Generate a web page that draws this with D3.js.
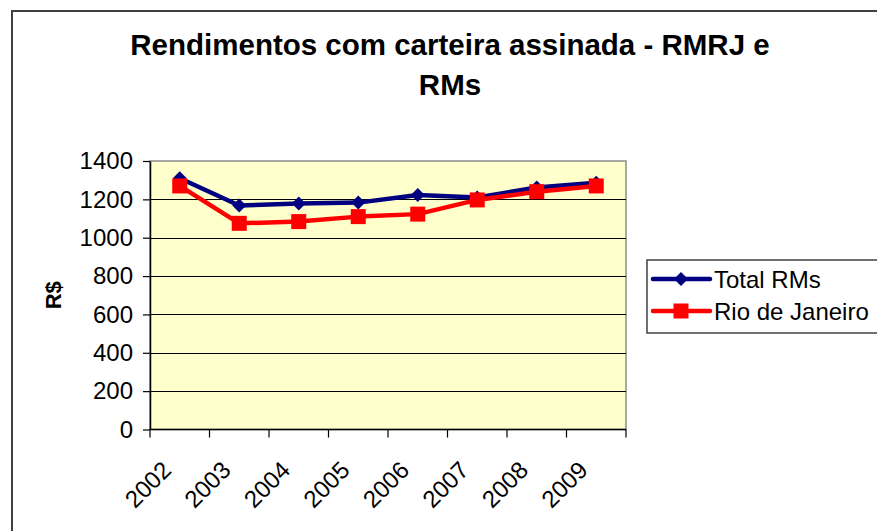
<!DOCTYPE html>
<html>
<head>
<meta charset="utf-8">
<script src="https://cdn.jsdelivr.net/npm/d3@7"></script>
<style>
  html, body { margin: 0; padding: 0; background: #ffffff; }
  svg { display: block; }
  text { font-family: "Liberation Sans", Arial, sans-serif; fill: #000; }
</style>
</head>
<body>
<svg id="chart" width="877" height="531"></svg>
<script>
// ---- data ----
const years = ["2002", "2003", "2004", "2005", "2006", "2007", "2008", "2009"];
const totalRMs = [1310, 1168, 1179, 1183, 1223, 1210, 1262, 1287];
const rioDeJaneiro = [1270, 1075, 1084, 1110, 1123, 1197, 1240, 1270];
const yTicks = [0, 200, 400, 600, 800, 1000, 1200, 1400];
const seriesNames = ["Total RMs", "Rio de Janeiro"];
const titleLines = ["Rendimentos com carteira assinada - RMRJ e", "RMs"];
const yLabel = "R$";

// ---- layout ----
const plot = { left: 150, right: 626, top: 161, bottom: 429.5 };
const svg = d3.select("#chart");

// outer frame
svg.append("rect")
  .attr("x", 12).attr("y", 11).attr("width", 920).attr("height", 560)
  .attr("fill", "#fff").attr("stroke", "#404040").attr("stroke-width", 2);

// title
svg.selectAll(".title").data(titleLines).enter().append("text")
  .attr("x", 450).attr("y", (d, i) => 55 + i * 40)
  .attr("text-anchor", "middle")
  .style("font-size", "29.5px").style("font-weight", "bold")
  .text(d => d);

// scales
const x = d3.scaleBand().domain(years).range([plot.left, plot.right]).padding(0);
const cx = d => x(d) + x.bandwidth() / 2;
const y = d3.scaleLinear().domain([0, 1400]).range([plot.bottom, plot.top]);

// plot background
svg.append("rect")
  .attr("x", plot.left).attr("y", plot.top)
  .attr("width", plot.right - plot.left).attr("height", plot.bottom - plot.top)
  .attr("fill", "#FFFFCC").attr("stroke", "#8c8c8c").attr("stroke-width", 1.5);

// gridlines
svg.selectAll(".grid").data(yTicks.filter(t => t > 0 && t < 1400)).enter().append("line")
  .attr("x1", plot.left).attr("x2", plot.right)
  .attr("y1", d => Math.round(y(d)) + 0.5).attr("y2", d => Math.round(y(d)) + 0.5)
  .attr("stroke", "#000").attr("stroke-width", 1);

// y axis
const yAxis = d3.axisLeft(y).tickValues(yTicks).tickFormat(d3.format("d"))
  .tickSize(7).tickPadding(10).tickSizeOuter(0);
const gy = svg.append("g").attr("transform", `translate(${plot.left},0)`).call(yAxis);
gy.select(".domain").attr("stroke", "#000").attr("stroke-width", 1.5);
gy.selectAll(".tick line").attr("stroke", "#000").attr("stroke-width", 1.2);
gy.selectAll(".tick text").style("font-size", "24px").style("font-family", "Liberation Sans, Arial, sans-serif");

// x axis line and ticks at category boundaries
const gx = svg.append("g");
gx.append("line")
  .attr("x1", plot.left).attr("x2", plot.right)
  .attr("y1", plot.bottom).attr("y2", plot.bottom)
  .attr("stroke", "#000").attr("stroke-width", 1.5);
const boundaries = years.map(d => x(d)).concat([plot.right]);
gx.selectAll(".xt").data(boundaries).enter().append("line")
  .attr("x1", d => d).attr("x2", d => d)
  .attr("y1", plot.bottom).attr("y2", plot.bottom + 8)
  .attr("stroke", "#000").attr("stroke-width", 1.2);
gx.selectAll(".xl").data(years).enter().append("text")
  .attr("transform", d => `translate(${cx(d) - 7},${plot.bottom + 42}) rotate(-45)`)
  .attr("text-anchor", "end")
  .style("font-size", "24px")
  .text(d => d);

// y label
svg.append("text")
  .attr("transform", `translate(61,${(plot.top + plot.bottom) / 2}) rotate(-90)`)
  .attr("text-anchor", "middle")
  .style("font-size", "22px").style("font-weight", "bold")
  .text(yLabel);

// series
const line = d3.line().x((d, i) => cx(years[i])).y(d => y(d));
const colors = ["#000080", "#FF0000"];
const data = [totalRMs, rioDeJaneiro];
const diamond = s => `M0,${-s}L${s},0L0,${s}L${-s},0Z`;

data.forEach((vals, si) => {
  svg.append("path").datum(vals)
    .attr("d", line).attr("fill", "none")
    .attr("stroke", colors[si]).attr("stroke-width", 4.5)
    .attr("stroke-linejoin", "round");
  const g = svg.append("g");
  if (si === 0) {
    g.selectAll("path").data(vals).enter().append("path")
      .attr("d", diamond(7))
      .attr("transform", (d, i) => `translate(${cx(years[i])},${y(d)})`)
      .attr("fill", colors[si]);
  } else {
    g.selectAll("rect").data(vals).enter().append("rect")
      .attr("x", (d, i) => cx(years[i]) - 7.5).attr("y", d => y(d) - 7.5)
      .attr("width", 15).attr("height", 15)
      .attr("fill", colors[si]);
  }
});

// legend
const lg = svg.append("g");
lg.append("rect").attr("x", 647).attr("y", 260).attr("width", 240).attr("height", 73)
  .attr("fill", "#fff").attr("stroke", "#404040").attr("stroke-width", 1.5);
seriesNames.forEach((name, i) => {
  const yy = 279 + i * 32;
  lg.append("line").attr("x1", 653).attr("x2", 710).attr("y1", yy).attr("y2", yy)
    .attr("stroke", colors[i]).attr("stroke-width", 4.5).attr("stroke-linecap", "round");
  if (i === 0) {
    lg.append("path").attr("d", diamond(7)).attr("transform", `translate(681,${yy})`).attr("fill", colors[i]);
  } else {
    lg.append("rect").attr("x", 681 - 7.5).attr("y", yy - 7.5).attr("width", 15).attr("height", 15).attr("fill", colors[i]);
  }
  lg.append("text").attr("x", 714).attr("y", yy + 8.5).style("font-size", "24px").text(name);
});
</script>
</body>
</html>
